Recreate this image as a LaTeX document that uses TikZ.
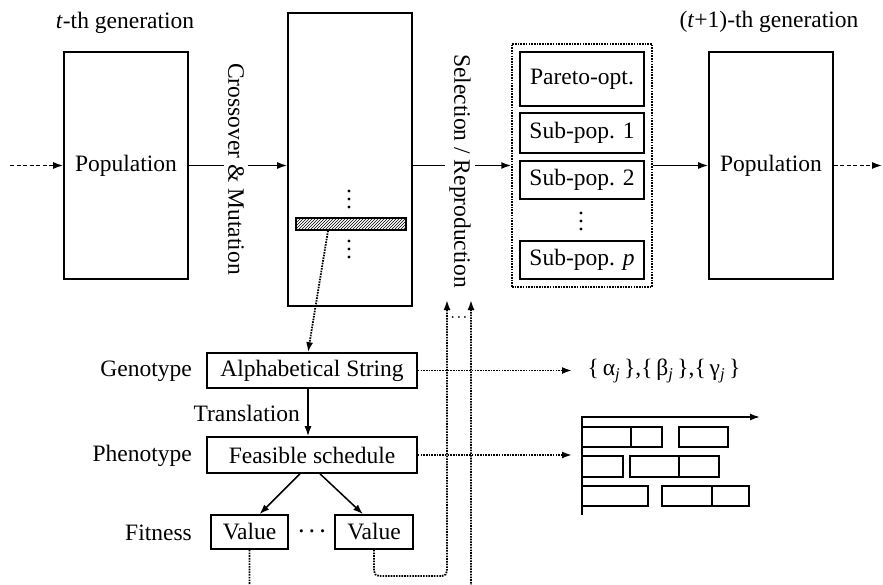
\documentclass[tikz,border=0pt]{standalone}
\usepackage{fontspec}
\setmainfont{Liberation Serif}
\usetikzlibrary{arrows.meta,patterns}
\begin{document}
\begin{tikzpicture}[x=1pt,y=-1pt,
  every node/.style={font=\fontsize{23.5}{27}\selectfont},
  box/.style={draw, line width=1.6pt, inner sep=0pt},
  ln/.style={line width=1.5pt},
  arr/.style={ln, -{Latex[length=10pt,width=7pt]}},
  dotln/.style={line width=1.8pt, dash pattern=on 1.6pt off 1.1pt},
  dotarr/.style={dotln, -{Latex[length=10pt,width=7pt]}},
  dasharr/.style={line width=1.4pt, dash pattern=on 4pt off 2.5pt, -{Latex[length=10pt,width=7pt]}},
  side/.style={fill=white, rotate=-90, inner sep=4pt},
  lab/.style={anchor=east, inner sep=0pt},
  gbar/.style={line width=1.5pt},
]
\useasboundingbox (0,0) rectangle (883,585);

% top row
\node[box, minimum width=124pt, minimum height=227pt] (pop1) at (126,165.5) {Population};
\node[box, minimum width=124pt, minimum height=293pt] (mid) at (350,159.5) {};
\node[draw, line width=1.5pt, dash pattern=on 1.6pt off 1.1pt, minimum width=140pt, minimum height=243pt, inner sep=0pt] (grp) at (582,165.5) {};
\node[box, minimum width=124pt, minimum height=54pt] (pareto) at (582,79) {Pareto-opt.};
\node[box, minimum width=124pt, minimum height=40pt] (sp1) at (582,133) {Sub-pop. 1};
\node[box, minimum width=124pt, minimum height=38pt] (sp2) at (582,180) {Sub-pop. 2};
\node[box, minimum width=124pt, minimum height=38pt] (spp) at (582,260) {Sub-pop. \textit{p}};
\node[box, minimum width=124pt, minimum height=227pt] (pop2) at (771,165.5) {Population};

\node (gen1) at (125,23) {\textit{t}-th generation};
\node (gen2) at (769,22) {(\textit{t}+1)-th generation};

\coordinate (lin) at (10,165.5);
\coordinate (rout) at (882,165.5);
\draw[dasharr] (lin) -- (pop1);
\draw[arr] (pop1) -- (mid.west |- pop1);
\node[side] (cross) at (236,169) {Crossover \& Mutation};
\draw[arr] (mid.east |- pop1) -- (grp.west |- pop1);
\node[side] (sel) at (460,171) {Selection / Reproduction};
\draw[arr] (grp.east |- pop1) -- (pop2);
\draw[dasharr] (pop2) -- (rout);

% hatched individual and dots
\node[draw, line width=1.5pt, pattern=north east lines, minimum width=110pt, minimum height=12pt, inner sep=0pt] (bar) at (351,224) {};
\foreach \y in {191,199,207,241,249,257} \fill (349,\y) circle (1.6);
\foreach \y in {213,221,229} \fill (581,\y) circle (1.6);

% lower part
\node[box, minimum width=210pt, minimum height=35pt] (alpha) at (312,370.5) {Alphabetical String};
\node[box, minimum width=210pt, minimum height=36pt] (feas) at (312,455) {Feasible schedule};
\node[box, minimum width=77pt, minimum height=34pt] (val1) at (249.5,532) {Value};
\node[box, minimum width=78pt, minimum height=34pt] (val2) at (374,532) {Value};
\node[font=\fontsize{21}{24}\selectfont\boldmath] (vdots) at (312,532) {$\cdots$};
\node[lab] (geno) at (192,371) {Genotype};
\node[lab] (pheno) at (192,456) {Phenotype};
\node[lab] (fit) at (192,533) {Fitness};
\node[lab] (trans) at (300,413) {Translation};

\draw[dotarr] ([xshift=-23pt]bar.south) -- ([xshift=-4pt]alpha.north);
\draw[arr] ([xshift=-4pt]alpha.south) -- ([xshift=-4pt]feas.north);
\draw[arr] ([xshift=-12pt]feas.south) -- ([xshift=10pt]val1.north);
\draw[arr] ([xshift=8pt]feas.south) -- ([xshift=-11pt]val2.north);

\coordinate (ga) at (572,370.5);
\coordinate (gb) at (572,455);
\draw[dotarr] (alpha) -- (ga);
\draw[dotarr] (feas) -- (gb);

\coordinate (up1) at (447,300);
\coordinate (up2) at (471,300);
\draw[dotarr, rounded corners=5pt] (val2.south) |- (447,576) -- (up1);
\draw[dotarr, rounded corners=5pt] (val1.south) |- (471,600) -- (up2);
\node[font=\fontsize{13}{15}\selectfont\boldmath] (etc) at (459,318) {$\cdots$};

\node (greek) at (664,371) {\{\,α\textsubscript{\textit{j}}\,\},\{\,β\textsubscript{\textit{j}}\,\},\{\,γ\textsubscript{\textit{j}}\,\}};

% Gantt chart
\draw[arr] (582,515) |- (760,417);
\draw[gbar] (582,427) rectangle (631,447);
\draw[gbar] (631,427) rectangle (662,447);
\draw[gbar] (679,427) rectangle (728,447);
\draw[gbar] (582,456) rectangle (623,477);
\draw[gbar] (630,456) rectangle (679,477);
\draw[gbar] (679,456) rectangle (719,477);
\draw[gbar] (582,486) rectangle (648,506);
\draw[gbar] (662,486) rectangle (712,506);
\draw[gbar] (712,486) rectangle (749,506);
\end{tikzpicture}
\end{document}
